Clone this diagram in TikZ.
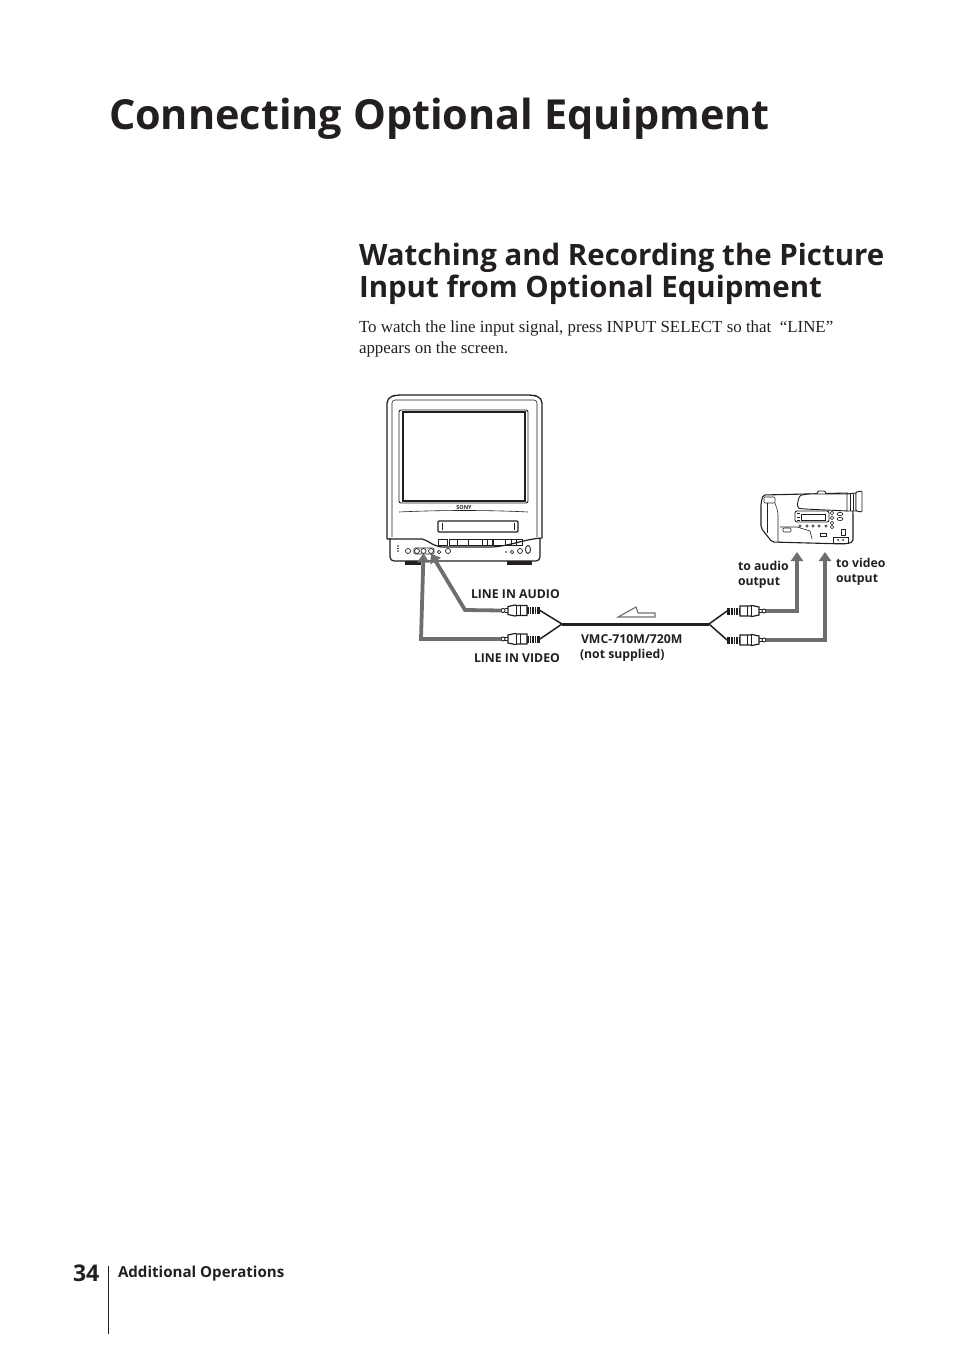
\documentclass[tikz,border=0pt]{standalone}
\usepackage{fontspec}
\setmainfont{Liberation Serif}
\setsansfont{Open Sans}
\usetikzlibrary{arrows.meta}
\definecolor{ink}{HTML}{231F20}
\definecolor{linkgray}{HTML}{6D6E70}

\begin{document}
\begin{tikzpicture}[x=1pt,y=-1pt,
  every node/.style={inner sep=0pt,outer sep=0pt,text=ink},
  title/.style={anchor=base west,font=\sffamily\bfseries\fontsize{41.4}{41.4}\selectfont},
  head/.style={anchor=base west,font=\sffamily\bfseries\fontsize{29.45}{29.45}\selectfont},
  body/.style={anchor=base west,font=\fontsize{16.9}{16.9}\selectfont},
  lab/.style={anchor=base west,font=\sffamily\fontsize{12.25}{12.25}\selectfont\bfseries},
  part/.style={draw=ink,line width=0.9pt},
  hair/.style={draw=ink,line width=0.6pt},
  jack/.style={shape=circle,draw=ink,line width=0.7pt,minimum size=5pt},
  link/.style={draw=linkgray,line width=3.8pt},
  linkto/.style={link,-{Triangle[length=9pt,width=12pt]}},
  wire/.style={draw=ink,line width=1.5pt}]
\useasboundingbox (0,0) rectangle (954,1351);

% page text
\node[title] (T) at (109,130) {Connecting Optional Equipment};
\node[head] (H1) at (359,265) {Watching and Recording the Picture};
\node[head] (H2) at (359,297) {Input from Optional Equipment};
\node[body] (B1) at (359,332) {To watch the line input signal, press INPUT SELECT so that \ “LINE”};
\node[body] (B2) at (359,353) {appears on the screen.};

% tv
\draw[part,line width=1.2pt,rounded corners=4pt] (390,538) -- (390,561) -- (540,561) -- (540,538);
\draw[part,line width=1.3pt,rounded corners=5pt] (387,539) -- (387,398) -- (396,395) -- (533,395) -- (542,398) -- (542,538);
\draw[part,line width=1.2pt] (387,539) -- (422,539) .. controls (428,540) and (432,546) .. (442,547) -- (492,547) .. controls (510,546) and (525,539) .. (542,538);
\draw[hair,rounded corners=3pt] (392,537) -- (392,400) -- (537,400) -- (537,537);
\draw[part,rounded corners=2pt] (399,410) rectangle (528,503);
\draw[part,line width=1.2pt] (403,412) rectangle (525,501);
\draw[hair] (399,512) .. controls (440,510) and (490,510) .. (528,512);
\fill[ink] (405,561) rectangle (421,564.5);
\fill[ink] (507,561) rectangle (532,564.5);
\node[font=\sffamily\bfseries\fontsize{5.5}{5.5}\selectfont] (SONY) at (464,508) {SONY};
\draw[part,line width=1.1pt,rounded corners=1pt] (438,521) rectangle (518,532);
\draw[part] (442,523) -- (442,530);
\draw[part] (514,523) -- (514,530);
% tv buttons
\foreach \bx/\bw in {438/9,449/8,457/11,468/14,482/5,487/5,493/12,505/6,511/5,516/6}{
  \draw[hair] (\bx,539) rectangle ++(\bw,6);
}
\foreach \dy in {546,548.5,551}{
  \fill[ink] (398,\dy) circle (0.8);
}
\node[jack] (Jp) at (408,551) {};
\node[jack] (Ja) at (417,551) {};
\node[jack] (Jv) at (423.5,551) {};
\node[jack] (Jl) at (431,551) {};
\node[jack,minimum size=3.5pt] (Jd) at (439,552) {};
\node[jack] (Jr) at (448,551) {};
\draw[hair,rounded corners=1pt] (414,548) rectangle (434,554);
\fill[ink] (506,552) circle (0.8);
\node[jack,minimum size=3.5pt] (Jm) at (512,552) {};
\node[jack] (Jn) at (520,551) {};
\draw[part] (528,549.5) ellipse (2.5 and 4);

% camera
\draw[part,line width=1.1pt,rounded corners=2pt] (763,495) -- (849,493) -- (853,512) -- (853,542) -- (845,544) -- (772,542) -- (761,528) -- (761,503) -- cycle;
\draw[hair,rounded corners=1pt] (764,497) rectangle (775,503);
\draw[hair] (767,503) -- (767,533);
\draw[hair,rounded corners=3pt] (775,503) -- (778,512) -- (778,542);
\draw[part,fill=white,rounded corners=1pt] (817,494) -- (818,491) -- (825,491) -- (826,494);
\draw[part,rounded corners=5pt,fill=white] (848,494) -- (806,494) .. controls (798,496) and (796,508) .. (804,509) -- (848,511);
\draw[part,fill=white] (847,494) -- (856,493) -- (856,511) -- (847,511) -- cycle;
\draw[part,fill=white,rounded corners=1pt] (856,492) -- (862,491) -- (862,512) -- (856,511) -- cycle;
\draw[hair] (850,494) -- (850,511);
\draw[hair] (853,494) -- (853,511);
\draw[part,rounded corners=2pt] (795,511) rectangle (829,522);
\draw[hair] (801,514) rectangle (825,520);
\foreach \dy in {513,517,520}{
  \draw[hair] (797,\dy) -- (800,\dy);
}
\foreach \bx in {800,807,813,819,826}{
  \draw[hair] (\bx,526) circle (1.3);
}
\draw[hair,rounded corners=1pt] (783,528) rectangle (791,532);
\draw[hair] (820,533) rectangle (826,536);
\draw[hair] (780,527) -- (797,527) -- (810,531) -- (812,539);
\foreach \dy in {513,518,523,527}{
  \draw[hair] (832,\dy) ellipse (1.8 and 1.8);
}
\foreach \dy in {514,519}{
  \draw[hair] (840,\dy) ellipse (3 and 1.6);
}
\draw[hair] (841,529) rectangle (845,535);
\draw[part] (833,537) rectangle (848,543);
\fill[ink] (838,540) circle (1) (843,540) circle (1);

% plugs
\foreach \pname/\px/\py/\pdir in {LA/527/610.5/1,LV/527/639/1,RA/740/611/-1,RV/740/640/-1}{
  \begin{scope}[shift={(\px,\py)},xscale=\pdir]
    \draw[part,line width=1.2pt,fill=white] (0,-5) -- (-10,-5) -- (-12,-5.5) -- (-19,-4) -- (-19,4) -- (-12,5.5) -- (-10,5) -- (0,5) -- cycle;
    \draw[part] (-7,-5) -- (-7,5) (-11,-5) -- (-11,5);
    \draw[part,fill=white] (-19,-1.8) -- (-22,-1.8) (-19,1.8) -- (-22,1.8);
    \draw[part,fill=white] (-24,0) circle (2);
    \fill[ink] (0,-3.5) rectangle (13,3.5);
    \foreach \rx in {2,4.5,7,9.5}{
      \draw[white,line width=0.6pt] (\rx,-3.5) -- (\rx,3.5);
    }
    \coordinate (\pname wire) at (13,0);
    \coordinate (\pname tip) at (-26,0);
  \end{scope}
}

% cable
\coordinate (SL) at (562,624);
\coordinate (SR) at (709,624);
\draw[ink,line width=3pt] (SL) -- (SR);
\draw[wire] (LAwire) -- (SL);
\draw[wire] (LVwire) -- (SL);
\draw[wire] (RAwire) -- (SR);
\draw[wire] (RVwire) -- (SR);

% connectors
\coordinate (CAu) at (797,552);
\coordinate (CVu) at (825,552);
\draw[linkto] (RAtip) -- (797,611) -- (CAu);
\draw[linkto] (RVtip) -- (825,640) -- (CVu);
\draw[linkto] (LAtip) -- (465,610) -- (Jl.south);
\draw[linkto] (LVtip) -- (421,639) -- (Jv.south);

% direction mark
\draw[part,draw=linkgray,line width=1.1pt] (655,617) -- (618,617) -- (636,607) -- (638,613) -- (655,613) -- cycle;

% labels
\node[lab] (LAL) at (471,598) {LINE IN AUDIO};
\node[lab] (LVL) at (474,662) {LINE IN VIDEO};
\node[lab] (VMC) at (581,643) {VMC-710M/720M};
\node[lab] (NS) at (580,658) {(not supplied)};
\node[lab] (TA1) at (738,570) {to audio};
\node[lab] (TA2) at (738,585) {output};
\node[lab] (TV1) at (836,567) {to video};
\node[lab] (TV2) at (836,582) {output};

% footer
\node[anchor=base west,font=\sffamily\bfseries\fontsize{23}{23}\selectfont] (PG) at (73,1281) {34};
\node[lab,font=\sffamily\bfseries\fontsize{15.1}{15.1}\selectfont] (SEC) at (118,1277) {Additional Operations};
\draw[ink,line width=0.9pt] (108,1266) -- (108,1334);
\end{tikzpicture}
\end{document}
